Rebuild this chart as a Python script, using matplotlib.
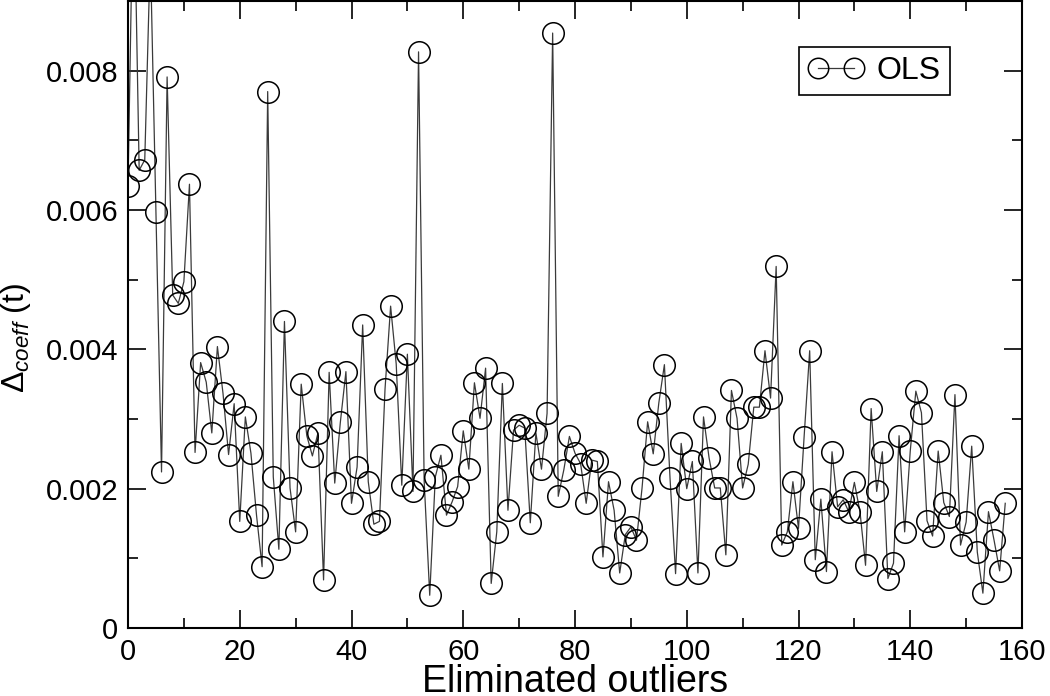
import matplotlib
matplotlib.use("Agg")
import matplotlib.pyplot as plt
from matplotlib.ticker import MultipleLocator

plt.rcParams['font.family'] = ['Liberation Sans', 'DejaVu Sans']
plt.rcParams['mathtext.fontset'] = 'custom'
plt.rcParams['mathtext.rm'] = 'Liberation Sans'
plt.rcParams['mathtext.it'] = 'Liberation Sans:italic'
plt.rcParams['mathtext.bf'] = 'Liberation Sans:bold'

# Number of eliminated outliers (x) and Delta_coeff values (y)
eliminated = list(range(158))
delta_ols = [
    0.00635, 0.01100, 0.00657, 0.00672, 0.00970, 0.00597, 0.00224, 0.00791, 0.00478, 0.00466,
    0.00497, 0.00637, 0.00252, 0.00381, 0.00353, 0.00280, 0.00404, 0.00337, 0.00249, 0.00322,
    0.00153, 0.00303, 0.00251, 0.00162, 0.00088, 0.00770, 0.00217, 0.00113, 0.00440, 0.00201,
    0.00138, 0.00350, 0.00276, 0.00247, 0.00280, 0.00069, 0.00367, 0.00208, 0.00295, 0.00368,
    0.00179, 0.00231, 0.00435, 0.00210, 0.00149, 0.00153, 0.00343, 0.00462, 0.00379, 0.00205,
    0.00393, 0.00196, 0.00827, 0.00212, 0.00047, 0.00217, 0.00248, 0.00162, 0.00181, 0.00203,
    0.00283, 0.00228, 0.00352, 0.00301, 0.00373, 0.00064, 0.00138, 0.00351, 0.00169, 0.00284,
    0.00291, 0.00287, 0.00151, 0.00280, 0.00228, 0.00308, 0.00854, 0.00189, 0.00227, 0.00275,
    0.00251, 0.00236, 0.00179, 0.00241, 0.00239, 0.00102, 0.00210, 0.00169, 0.00079, 0.00134,
    0.00145, 0.00126, 0.00201, 0.00296, 0.00250, 0.00323, 0.00378, 0.00216, 0.00078, 0.00265,
    0.00200, 0.00239, 0.00079, 0.00303, 0.00244, 0.00201, 0.00201, 0.00105, 0.00341, 0.00301,
    0.00201, 0.00235, 0.00317, 0.00317, 0.00398, 0.00330, 0.00519, 0.00119, 0.00138, 0.00210,
    0.00143, 0.00274, 0.00398, 0.00098, 0.00185, 0.00081, 0.00253, 0.00174, 0.00184, 0.00167,
    0.00209, 0.00167, 0.00090, 0.00315, 0.00196, 0.00253, 0.00071, 0.00093, 0.00276, 0.00138,
    0.00254, 0.00340, 0.00309, 0.00154, 0.00132, 0.00254, 0.00180, 0.00160, 0.00335, 0.00119,
    0.00152, 0.00261, 0.00109, 0.00050, 0.00167, 0.00126, 0.00082, 0.00179,
]
x_ticks = [0, 20, 40, 60, 80, 100, 120, 140, 160]
y_ticks = [0, 0.002, 0.004, 0.006, 0.008]
y_tick_labels = ['0', '0.002', '0.004', '0.006', '0.008']

W, H = 1050, 696
fig = plt.figure(figsize=(W / 100, H / 100), dpi=100)
ax = fig.add_axes([128 / W, (H - 628) / H, (1022 - 128) / W, 627 / H])

ax.plot(eliminated, delta_ols, color='#3a3a3a', lw=0.9,
        marker='o', markersize=15.5, markerfacecolor='none',
        markeredgecolor='black', markeredgewidth=1.1, label='OLS')

ax.set_xlim(0, 160)
ax.set_ylim(0, 0.009)
ax.set_xticks(x_ticks)
ax.set_xticklabels([str(t) for t in x_ticks])
ax.set_yticks(y_ticks)
ax.set_yticklabels(y_tick_labels)
ax.xaxis.set_minor_locator(MultipleLocator(10))
ax.yaxis.set_minor_locator(MultipleLocator(0.001))
ax.tick_params(which='both', direction='in', top=True, right=True,
               labelsize=21, width=1.2, pad=7)
ax.tick_params(which='major', length=13)
ax.tick_params(which='minor', length=7.5)
for s in ax.spines.values():
    s.set_linewidth(1.5)

ax.set_xlabel('Eliminated outliers', fontsize=27, labelpad=-1.5)
ax.set_ylabel(r'$\Delta_{coeff}$ (t)', fontsize=23)
ax.yaxis.set_label_coords(-0.106, 0.462)

leg = ax.legend(loc='upper left', bbox_to_anchor=(799 / W, 1 - 47 / H),
                bbox_transform=fig.transFigure, borderaxespad=0,
                fontsize=23, numpoints=2, handlelength=1.75, handletextpad=0.4,
                borderpad=0.28, fancybox=False, framealpha=1, edgecolor='black',
                markerscale=0.95)
leg.get_frame().set_linewidth(1.2)

fig.savefig('out.png', dpi=100)
